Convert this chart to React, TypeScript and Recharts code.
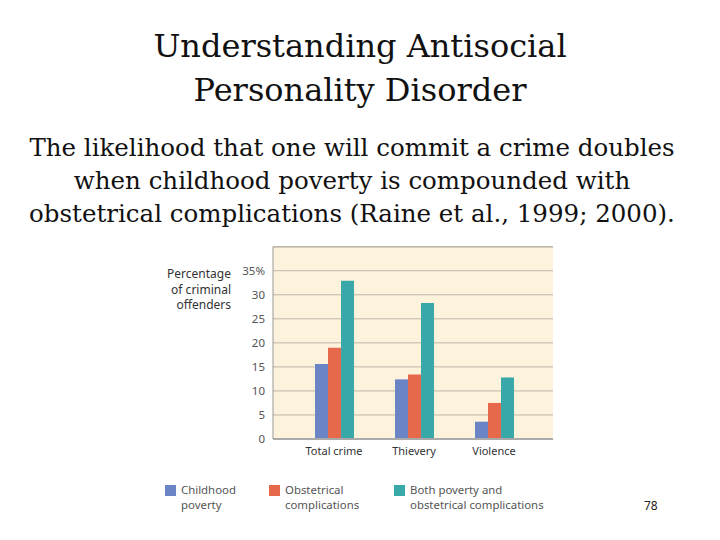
import { BarChart, Bar, XAxis, YAxis, CartesianGrid, ReferenceLine } from "recharts"

const categories = ["Total crime", "Thievery", "Violence"]
const povertyValues = [15.6, 12.4, 3.6]
const obstetricValues = [19.0, 13.4, 7.5]
const bothValues = [32.9, 28.3, 12.8]
const yTicks = [0, 5, 10, 15, 20, 25, 30, 35]

const seriesKeys = [
  { key: "poverty", color: "#6a84c6", label: ["Childhood", "poverty"] },
  { key: "obstetric", color: "#e5694a", label: ["Obstetrical", "complications"] },
  { key: "both", color: "#39a8a8", label: ["Both poverty and", "obstetrical complications"] },
]

const data = categories.map((name, i) => ({
  name,
  poverty: povertyValues[i],
  obstetric: obstetricValues[i],
  both: bothValues[i],
}))

const serif = "'DejaVu Serif', serif"
const sans = "'Noto Sans', 'Open Sans', sans-serif"

const legendPos = [165, 269, 394]

export default function App() {
  return (
    <div style={{ position: "absolute", left: 0, top: 0, width: 720, height: 540, background: "#fff", overflow: "hidden" }}>
      <div style={{ position: "absolute", left: 0, top: 24, width: 720, textAlign: "center", fontFamily: serif, fontSize: 32, lineHeight: "44px", color: "#111" }}>
        <div>Understanding Antisocial</div>
        <div>Personality Disorder</div>
      </div>
      <div style={{ position: "absolute", left: -8, top: 131, width: 720, textAlign: "center", fontFamily: serif, fontSize: 24.5, lineHeight: "33px", color: "#111" }}>
        <div>The likelihood that one will commit a crime doubles</div>
        <div>when childhood poverty is compounded with</div>
        <div>obstetrical complications (Raine et al., 1999; 2000).</div>
      </div>

      <div style={{ position: "absolute", left: 140, top: 266, width: 91, textAlign: "right", fontFamily: sans, fontSize: 12, lineHeight: "15.5px", color: "#333" }}>
        <div>Percentage</div>
        <div>of criminal</div>
        <div>offenders</div>
      </div>

      <div style={{ position: "absolute", left: 0, top: 0 }}>
        <BarChart
          width={720}
          height={540}
          data={data}
          margin={{ top: 246.7, right: 167, bottom: 71, left: 233 }}
          barGap={0}
          barCategoryGap={20.5}
        >
          <CartesianGrid vertical={false} fill="#fdf2dc" stroke="#bdb6a8" strokeWidth={1} />
          <ReferenceLine y={40} stroke="#bdb6a8" strokeWidth={1.5} />
          <XAxis
            dataKey="name"
            height={30}
            padding={{ left: 21, right: 19 }}
            axisLine={{ stroke: "#aaa", strokeWidth: 2 }}
            tickLine={false}
            tickMargin={2}
            tick={{ fontSize: 11, fill: "#333", fontFamily: sans }}
          />
          <YAxis
            width={40}
            domain={[0, 40]}
            ticks={yTicks}
            interval={0}
            axisLine={{ stroke: "#999", strokeWidth: 1 }}
            tickLine={false}
            tick={{ fontSize: 11.5, fill: "#555", fontFamily: sans }}
            tickFormatter={(v) => (v === 35 ? "35%" : `${v}`)}
          />
          {seriesKeys.map((s) => (
            <Bar key={s.key} dataKey={s.key} fill={s.color} barSize={13} isAnimationActive={false} />
          ))}
        </BarChart>
      </div>

      {seriesKeys.map((s, i) => (
        <div key={s.key} style={{ position: "absolute", left: legendPos[i], top: 485 }}>
          <div style={{ position: "absolute", left: 0, top: 0, width: 11, height: 11, background: s.color }} />
          <div style={{ position: "absolute", left: 16, top: -2, whiteSpace: "nowrap", fontFamily: sans, fontSize: 11.4, lineHeight: "14.5px", color: "#555" }}>
            {s.label.map((t) => (
              <div key={t}>{t}</div>
            ))}
          </div>
        </div>
      ))}

      <div style={{ position: "absolute", left: 644, top: 497, fontFamily: sans, fontSize: 12, color: "#222" }}>78</div>
    </div>
  )
}
